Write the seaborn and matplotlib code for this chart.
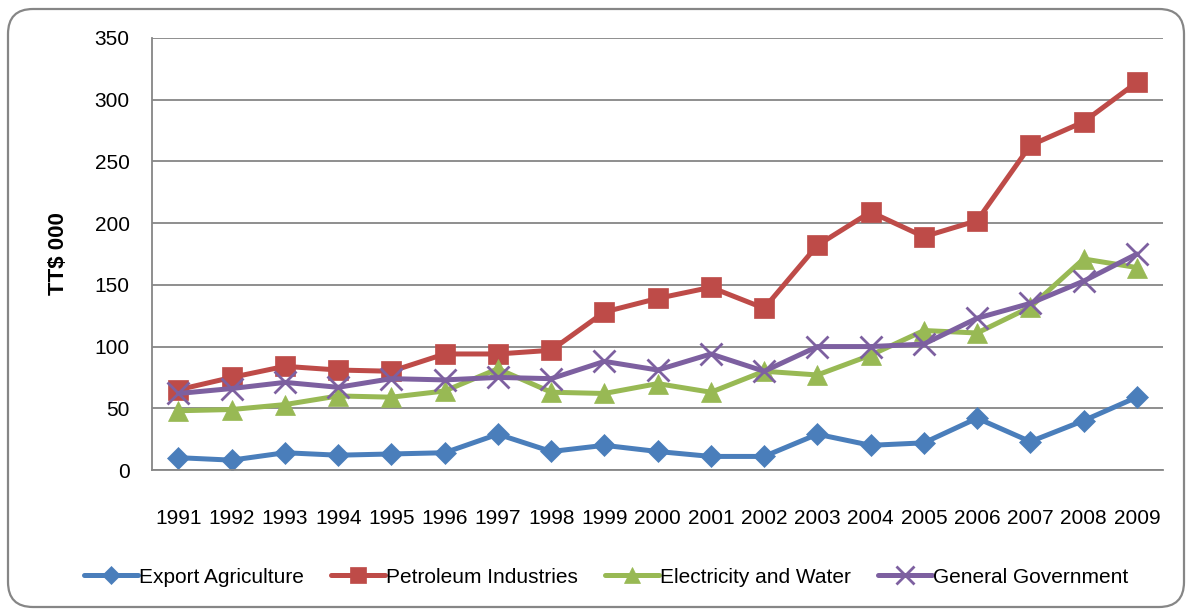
import numpy as np
import pandas as pd
import matplotlib
matplotlib.use('Agg')
import matplotlib.pyplot as plt
from matplotlib.patches import FancyBboxPatch
from matplotlib.ticker import MultipleLocator
import seaborn as sns

years = list(range(1991, 2010))
export_agri = [10, 8, 14, 12, 13, 14, 29, 15, 20, 15, 11, 11, 29, 20, 22, 42, 23, 40, 59]
petroleum = [65, 75, 84, 81, 80, 94, 94, 97, 128, 139, 148, 131, 182, 209, 189, 202, 263, 282, 314]
elec_water = [48, 49, 53, 60, 59, 64, 82, 63, 62, 70, 63, 80, 77, 93, 113, 111, 132, 171, 164]
general_gov = [62, 66, 71, 67, 74, 73, 75, 74, 88, 81, 94, 80, 100, 100, 102, 123, 135, 153, 175]

series_names = ['Export Agriculture', 'Petroleum Industries',
                'Electricity and Water', 'General Government']
series_vals = [export_agri, petroleum, elec_water, general_gov]
colors = ['#4A7EBB', '#BE4B48', '#98B954', '#7D60A0']
markers = ['D', 's', '^', 'x']
msizes = [11, 15, 15, 16]

sns.set_theme(style='white')
plt.rcParams['font.family'] = ['Liberation Sans', 'DejaVu Sans']
plt.rcParams.update({'font.size': 15, 'text.color': 'black',
                     'axes.labelcolor': 'black', 'xtick.color': 'black',
                     'ytick.color': 'black'})

fig = plt.figure(figsize=(11.86, 6.12), dpi=100)
ax = fig.add_axes([0.128, 0.232, 0.853, 0.706])

df = pd.DataFrame({
    'year': np.tile(years, len(series_names)),
    'value': np.concatenate(series_vals),
    'series': np.repeat(series_names, len(years)),
})

for name, col, mk, ms in zip(series_names, colors, markers, msizes):
    sub = df[df['series'] == name]
    sns.lineplot(data=sub, x='year', y='value', ax=ax, color=col, linewidth=3.6,
                 marker=mk, markersize=ms, markeredgecolor=col,
                 markeredgewidth=2.0 if mk == 'x' else 0.5, label=name)

ax.set_xlim(1990.5, 2009.5)
ax.set_ylim(0, 350)
ax.yaxis.set_major_locator(MultipleLocator(50))
ax.set_xticks(years)
ax.set_xticks(np.arange(1990.5, 2010, 1), minor=True)
ax.tick_params(axis='x', which='major', length=0, pad=28, labelsize=15, labelcolor='black')
ax.tick_params(axis='x', which='minor', length=7, width=1.3, color='#868686', direction='out')
ax.tick_params(axis='y', length=7, width=1.3, color='#868686', direction='out',
               labelsize=15, pad=9, labelcolor='black')
ax.grid(axis='y', color='#868686', linewidth=1.3)
ax.set_axisbelow(True)
for s in ['top', 'right']:
    ax.spines[s].set_visible(False)
for s in ['left', 'bottom']:
    ax.spines[s].set_color('#868686')
    ax.spines[s].set_linewidth(1.3)

ax.set_xlabel('')
ax.set_ylabel('TT$ 000', fontsize=16, fontweight='bold', labelpad=18, color='black')

ax.legend(loc='center', bbox_to_anchor=(0.449, -0.248), ncol=4, frameon=False,
          fontsize=15, handlelength=2.6, handletextpad=0.05, columnspacing=1.3,
          markerscale=0.8, labelcolor='black')

# rounded frame around the whole chart, drawn in pixel units
frame_ax = fig.add_axes([0, 0, 1, 1], zorder=-1)
frame_ax.set_xlim(0, 1186)
frame_ax.set_ylim(612, 0)
frame_ax.axis('off')
frame_ax.add_patch(FancyBboxPatch((8, 9), 1176, 598,
                                  boxstyle='round,pad=0,rounding_size=25',
                                  facecolor='none', edgecolor='#868686',
                                  linewidth=1.6, clip_on=False))

fig.savefig('out.png', dpi=100)
